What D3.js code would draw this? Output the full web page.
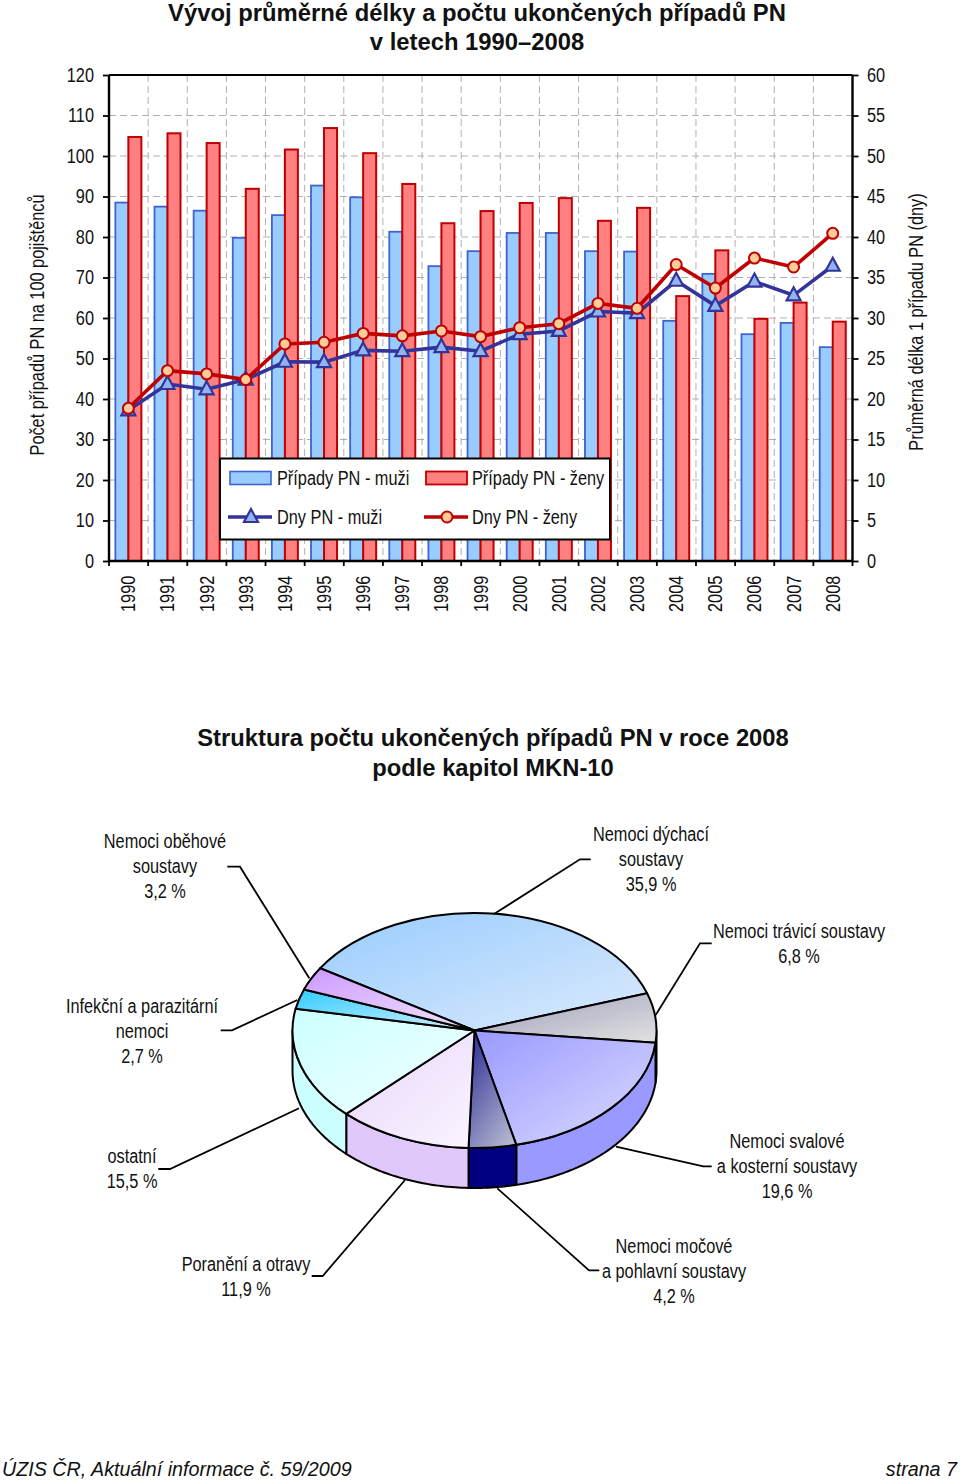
<!DOCTYPE html>
<html><head><meta charset="utf-8">
<script src="https://cdn.jsdelivr.net/npm/d3@7/dist/d3.min.js"></script>
<style>html,body{margin:0;padding:0;background:#fff}svg{display:block}text{font-family:"Liberation Sans",Arial,sans-serif;fill:#111}</style>
</head><body><svg id="c" width="960" height="1482"></svg>
<script>
const years=["1990","1991","1992","1993","1994","1995","1996","1997","1998","1999","2000","2001","2002","2003","2004","2005","2006","2007","2008"];
const casesMen=[88.5,87.5,86.5,79.8,85.4,92.7,89.8,81.3,72.8,76.5,81,81,76.5,76.4,59.3,70.9,56,58.8,52.8];
const casesWomen=[104.7,105.6,103.2,91.9,101.6,106.9,100.7,93.1,83.4,86.4,88.4,89.6,84,87.2,65.4,76.7,59.8,63.8,59.1];
const daysMen=[18.6,21.85,21.2,22.4,24.6,24.55,26,25.9,26.4,25.9,28,28.4,30.8,30.6,34.6,31.5,34.5,32.8,36.45];
const daysWomen=[18.85,23.5,23.1,22.4,26.8,27,28.1,27.8,28.4,27.7,28.8,29.3,31.8,31.2,36.6,33.7,37.4,36.3,40.45];
const leftTicks=[0,10,20,30,40,50,60,70,80,90,100,110,120];
const rightTicks=[0,5,10,15,20,25,30,35,40,45,50,55,60];
const pieLabels=[["Nemoci dýchací","soustavy","35,9 %"],["Nemoci trávicí soustavy","6,8 %"],["Nemoci svalové","a kosterní soustavy","19,6 %"],["Nemoci močové","a pohlavní soustavy","4,2 %"],["Poranění a otravy","11,9 %"],["ostatní","15,5 %"],["Infekční a parazitární","nemoci","2,7 %"],["Nemoci oběhové","soustavy","3,2 %"]];
const pieValues=[35.9,6.8,19.6,4.2,11.9,15.5,2.7,3.2];

const svg=d3.select("#c");
const defs=svg.append("defs");
const SX=0.815;
function txt(g,x,y,s,size,anchor,opts={}){
  const t=g.append("text").attr("x",x).attr("y",y).attr("font-size",size).attr("text-anchor",anchor||"start").text(s);
  if(opts.bold)t.attr("font-weight","bold");
  if(opts.italic)t.attr("font-style","italic");
  const sx=opts.sx===undefined?SX:opts.sx;
  if(sx!==1){const w=t.node().getComputedTextLength();t.attr("textLength",w*sx).attr("lengthAdjust","spacingAndGlyphs");}
  return t;
}
const F=20;
// ---------- combo chart
const x=d3.scaleBand().domain(years).range([109,852.5]);
const yL=d3.scaleLinear().domain([0,120]).range([561,75]);
const yR=d3.scaleLinear().domain([0,60]).range([561,75]);
const barW=13;
const grid=svg.append("g").attr("stroke","#b0b0b0").attr("stroke-width",1).attr("stroke-dasharray","7 4");
leftTicks.slice(1,-1).forEach(v=>grid.append("line").attr("x1",109).attr("x2",852.5).attr("y1",yL(v)).attr("y2",yL(v)));
years.slice(1).forEach(y=>grid.append("line").attr("x1",x(y)).attr("x2",x(y)).attr("y1",75).attr("y2",561));
const cx=y=>x(y)+x.bandwidth()/2-0.2;
svg.append("g").selectAll("rect").data(years).join("rect")
 .attr("x",y=>cx(y)-barW).attr("width",barW).attr("y",(y,i)=>yL(casesMen[i])).attr("height",(y,i)=>561-yL(casesMen[i]))
 .attr("fill","#99ccff").attr("stroke","#3f63d0").attr("stroke-width",1.8);
svg.append("g").selectAll("rect").data(years).join("rect")
 .attr("x",y=>cx(y)).attr("width",barW).attr("y",(y,i)=>yL(casesWomen[i])).attr("height",(y,i)=>561-yL(casesWomen[i]))
 .attr("fill","#ff8080").attr("stroke","#c00000").attr("stroke-width",2);
const lineOf=a=>d3.line().x((d,i)=>cx(years[i])).y(d=>yR(d))(a);
const tri=(g,px,py)=>g.append("path").attr("d",`M${px},${py-8}L${px+7},${py+5}L${px-7},${py+5}Z`).attr("fill","#8fb4ee").attr("stroke","#333399").attr("stroke-width",2.2);
const circ=(g,px,py)=>g.append("circle").attr("cx",px).attr("cy",py).attr("r",5.5).attr("fill","#ffcc99").attr("stroke","#c00000").attr("stroke-width",2);
const gl=svg.append("g");
gl.append("path").attr("d",lineOf(daysMen)).attr("fill","none").attr("stroke","#333399").attr("stroke-width",3.6);
daysMen.forEach((d,i)=>tri(gl,cx(years[i]),yR(d)));
gl.append("path").attr("d",lineOf(daysWomen)).attr("fill","none").attr("stroke","#c00000").attr("stroke-width",3.6);
daysWomen.forEach((d,i)=>circ(gl,cx(years[i]),yR(d)));
// axes
const axL=svg.append("g").attr("transform","translate(109,0)").call(d3.axisLeft(yL).tickValues(leftTicks).tickSize(6).tickFormat(""));
const axR=svg.append("g").attr("transform","translate(852.5,0)").call(d3.axisRight(yR).tickValues(rightTicks).tickSize(6).tickFormat(""));
const axB=svg.append("g").attr("transform","translate(0,561)").call(d3.axisBottom(x).tickSize(0).tickFormat(""));
[axL,axR,axB].forEach(a=>{a.selectAll("path").attr("stroke","#000").attr("stroke-width",2.4);a.selectAll("line").attr("stroke","#000").attr("stroke-width",1.8);});
axL.select("path").attr("d","M0,75V561");axR.select("path").attr("d","M0,75V561");
axB.select("path").attr("d","M109,0H852.5");
leftTicks.forEach(v=>txt(svg,94,yL(v)+6.5,String(v),F,"end"));
rightTicks.forEach(v=>txt(svg,867,yR(v)+6.5,String(v),F,"start"));
svg.append("line").attr("x1",109).attr("x2",852.5).attr("y1",75).attr("y2",75).attr("stroke","#000").attr("stroke-width",2.2);
const bt=svg.append("g").attr("stroke","#000").attr("stroke-width",1.8);
x.domain().concat(["end"]).forEach((y,i)=>{const p=109+i*x.bandwidth();bt.append("line").attr("x1",p).attr("x2",p).attr("y1",561).attr("y2",566);});
years.forEach(y=>{const g=svg.append("g").attr("transform",`translate(${cx(y)+7},612) rotate(-90)`);txt(g,0,0,y,F,"start");});
// titles
txt(svg,477,21,"Vývoj průměrné délky a počtu ukončených případů PN",23,"middle",{bold:true,sx:1.035});
txt(svg,477,50,"v letech 1990–2008",23,"middle",{bold:true,sx:1.035});
{const g=svg.append("g").attr("transform","translate(44,325) rotate(-90)");txt(g,0,0,"Počet případů PN na 100 pojištěnců",F,"middle");}
{const g=svg.append("g").attr("transform","translate(923,322) rotate(-90)");txt(g,0,0,"Průměrná délka 1 případu PN (dny)",F,"middle");}
// legend
const lg=svg.append("g");
lg.append("rect").attr("x",220).attr("y",458.5).attr("width",390).attr("height",81).attr("fill","#fff").attr("stroke","#000").attr("stroke-width",2);
lg.append("rect").attr("x",230).attr("y",471.5).attr("width",41).attr("height",13).attr("fill","#99ccff").attr("stroke","#3f63d0").attr("stroke-width",1.6);
lg.append("rect").attr("x",426).attr("y",471.5).attr("width",41).attr("height",13).attr("fill","#ff8080").attr("stroke","#c00000").attr("stroke-width",1.8);
lg.append("line").attr("x1",228).attr("x2",272).attr("y1",517).attr("y2",517).attr("stroke","#333399").attr("stroke-width",3.6);
tri(lg,251,517);
lg.append("line").attr("x1",424).attr("x2",468).attr("y1",517).attr("y2",517).attr("stroke","#c00000").attr("stroke-width",3.6);
circ(lg,447,517);
txt(lg,277,485,"Případy PN - muži",F);
txt(lg,472,485,"Případy PN - ženy",F);
txt(lg,277,524,"Dny PN - muži",F);
txt(lg,472,524,"Dny PN - ženy",F);
// ---------- pie
txt(svg,493,746,"Struktura počtu ukončených případů PN v roce 2008",24,"middle",{bold:true,sx:.99});
txt(svg,493,776,"podle kapitol MKN-10",24,"middle",{bold:true,sx:.99});
const pcx=474.5,pcy=1030.5,rx=182,ry=117.5,depth=40;
const topA=[["#99ccff","#dceafb"],["#9a9ab8","#e2e2e2"],["#9999ff","#dcdcff"],["#333399","#b4b8cf"],["#e8d6fa","#faf4ff"],["#ccffff","#f2ffff"],["#33ccff","#d4f2ff"],["#cc99ff","#f2e6ff"]];
const wall=["#99ccff","#c0c0c0","#9999ff","#000080","#e0c8fb","#ccffff","#33ccff","#cc99ff"];
const arcs=d3.pie().sort(null).startAngle(-58*Math.PI/180).endAngle((360-58)*Math.PI/180)(pieValues);
topA.forEach((c,i)=>{const g=defs.append("linearGradient").attr("id","g"+i).attr("x1",i==3?0.2:0).attr("y1",0).attr("x2",i==3?0.8:1).attr("y2",1);
 g.append("stop").attr("offset",0).attr("stop-color",c[0]);g.append("stop").attr("offset",1).attr("stop-color",c[1]);});
const ex=a=>pcx+rx*Math.sin(a), ey=a=>pcy-ry*Math.cos(a);
function wallPath(a0,a1){
  const p=d3.path();
  p.moveTo(ex(a0),ey(a0));const n=40;
  for(let k=1;k<=n;k++){const a=a0+(a1-a0)*k/n;p.lineTo(ex(a),ey(a));}
  for(let k=n;k>=0;k--){const a=a0+(a1-a0)*k/n;p.lineTo(ex(a),ey(a)+depth);}
  p.closePath();return p.toString();
}
const gw=svg.append("g");
arcs.forEach((d,i)=>{
  const lo=Math.max(d.startAngle,Math.PI/2), hi=Math.min(d.endAngle,Math.PI*1.5);
  if(hi>lo) gw.append("path").attr("d",wallPath(lo,hi)).attr("fill",wall[i]).attr("stroke","#000").attr("stroke-width",2).attr("stroke-linejoin","round");
});
const arcGen=d3.arc().innerRadius(0).outerRadius(rx);
svg.append("g").attr("transform",`translate(${pcx},${pcy}) scale(1,${ry/rx})`).selectAll("path").data(arcs).join("path")
 .attr("d",arcGen).attr("fill",(d,i)=>`url(#g${i})`).attr("stroke","#000").attr("stroke-width",2).attr("vector-effect","non-scaling-stroke").attr("stroke-linejoin","round");
// leaders
const leaders=[[[590.7,859.3],[580,859.3],[494,914]],[[711.7,943.3],[700,943.3],[655.7,1015]],[[711.7,1166.3],[703.3,1166.3],[616,1146.7]],[[599.3,1270.3],[589,1270.3],[497.3,1188.3]],[[311.7,1276],[322.7,1276],[405,1180]],[[158.3,1169],[170,1169],[299,1108.3]],[[220.7,1030.3],[232,1030.3],[297.3,1000]],[[227.3,866.7],[240,866.7],[309.3,978.3]]];
const lGen=d3.line();
svg.append("g").selectAll("path").data(leaders).join("path").attr("d",lGen).attr("fill","none").attr("stroke","#000").attr("stroke-width",1.8);
const anchors=[[651,[841,866,891]],[799,[938,963]],[787,[1148,1173,1198]],[674,[1253,1278,1303]],[246,[1271,1296]],[132,[1163,1188]],[142,[1013,1038,1063]],[165,[848,873,898]]];
pieLabels.forEach((l,i)=>l.forEach((s,j)=>txt(svg,anchors[i][0],anchors[i][1][j],s,F,"middle")));
// footer
txt(svg,2,1476,"ÚZIS ČR, Aktuální informace č. 59/2009",20,"start",{italic:true,sx:.985});
txt(svg,957,1476,"strana 7",20,"end",{italic:true,sx:.985});
</script></body></html>
